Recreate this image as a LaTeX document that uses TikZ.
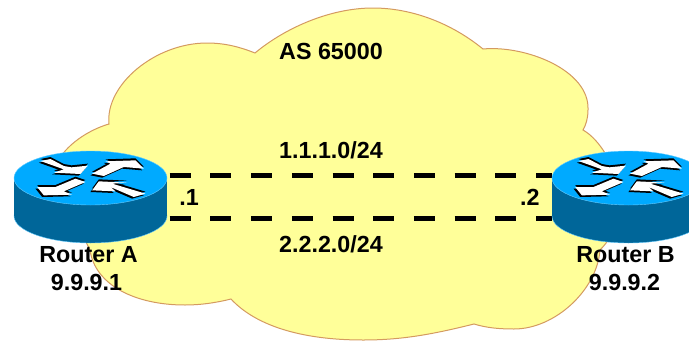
\documentclass[tikz,border=0pt]{standalone}
\usepackage{fontspec}
\setmainfont{Liberation Sans}
\usepackage{xcolor}
\usetikzlibrary{positioning}
\definecolor{cloudfill}{HTML}{FFFF99}
\definecolor{cloudedge}{HTML}{D49A60}
\definecolor{routertop}{HTML}{00AAFF}
\definecolor{routerside}{HTML}{006699}
\definecolor{routerrim}{HTML}{66CCFF}

\begin{document}
\begin{tikzpicture}[
		x=1pt, y=-1pt,
		empty/.style={coordinate},
		routerbox/.style={rectangle, inner sep=0pt, minimum width=153pt, minimum height=92pt},
		tag/.style={inner sep=0pt, font=\fontsize{23.3}{24}\selectfont\bfseries},
		link/.style={line width=4.4pt, dash pattern=on 21pt off 19.7pt, dash phase=38.2pt},
		cloud/.style={fill=cloudfill, draw=cloudedge, line width=1pt},
		routerpic/.pic={
			\fill[routerside, draw=routerrim, thin] (0,19) ellipse [x radius=76.5pt, y radius=27pt];
			\fill[routerside] (-76.5,-19) rectangle (76.5,19);
			\fill[routertop, draw=routerrim, thin] (0,-19) ellipse [x radius=76.5pt, y radius=27pt];
			\begin{scope}[shift={(-60,-47)}, x=0.3333pt, y=-0.3333pt]
				\foreach \col/\dx/\dy in {black/-5/5, black/0/-6, white/0/0} {
					\fill[\col, shift={(\dx,\dy)}]
						(30,33) -- (60,27) -- (100,48) -- (123,52) -- (172,47) -- (150,72) -- (70,68) -- (100,58) -- cycle
						(185,71) -- (240,41) -- (225,34) -- (315,31) -- (340,56) -- (280,51) -- (220,78) -- cycle
						(20,111) -- (75,111) -- (135,86) -- (165,96) -- (100,124) -- (125,134) -- (40,136) -- cycle
						(185,121) -- (205,94) -- (290,98) -- (245,101) -- (345,131) -- (310,141) -- (240,111) -- (255,124) -- cycle;
				}
			\end{scope}
		},
		]
		\clip (0,0) rectangle (689,341);

		%Cloud
		\fill[cloud] (109,124)
			.. controls (105,85) and (155,43) .. (207,43)
			.. controls (225,43) and (240,47) .. (255,53)
			.. controls (285,28) and (330,8) .. (373,8)
			.. controls (410,8) and (450,22) .. (483,49)
			.. controls (525,45) and (590,70) .. (588,110)
			.. controls (588,118) and (586,125) .. (583,130)
			.. controls (610,145) and (640,210) .. (600,250)
			.. controls (597,290) and (555,329) .. (514,329)
			.. controls (500,329) and (487,328) .. (474,324)
			.. controls (430,335) and (400,340) .. (363,340)
			.. controls (300,340) and (255,325) .. (231,299)
			.. controls (215,303) and (200,305) .. (185,305)
			.. controls (135,305) and (95,285) .. (90,250)
			.. controls (70,210) and (45,170) .. (66,150)
			.. controls (78,137) and (95,128) .. (109,124) -- cycle;

		%Main Nodes
		\node[empty]		(center)	at (331,197)	{};
		\node[routerbox]	(router_a)	at (90.5,197)	{};
		\node[routerbox]	(router_b)	at (628.5,197)	{};

		%Links
		\draw[link] ([yshift=21.5pt]router_a.east) -- ([yshift=21.5pt]router_b.west);
		\draw[link] ([yshift=-21.5pt]router_a.east) -- ([yshift=-21.5pt]router_b.west);

		%Routers
		\pic at (router_a) {routerpic};
		\pic at (router_b) {routerpic};

		%Labels
		\node[tag]	(as_name)	at (331,51)				{AS 65000};
		\node[tag]	(net_1)		[above=38pt of center]	{1.1.1.0/24};
		\node[tag]	(net_2)		[below=38pt of center]	{2.2.2.0/24};
		\node[tag]	(if_a)		[right=12pt of router_a]	{.1};
		\node[tag]	(if_b)		[left=12pt of router_b]		{.2};
		\node[tag]	(name_a)	[below=3pt of router_a, xshift=-2pt]	{Router A};
		\node[tag]	(ip_a)		[below=11pt of name_a, xshift=-2pt]	{9.9.9.1};
		\node[tag]	(name_b)	[below=3pt of router_b, xshift=-3pt]	{Router B};
		\node[tag]	(ip_b)		[below=11pt of name_b, xshift=-1pt]	{9.9.9.2};

	\end{tikzpicture}
\end{document}
